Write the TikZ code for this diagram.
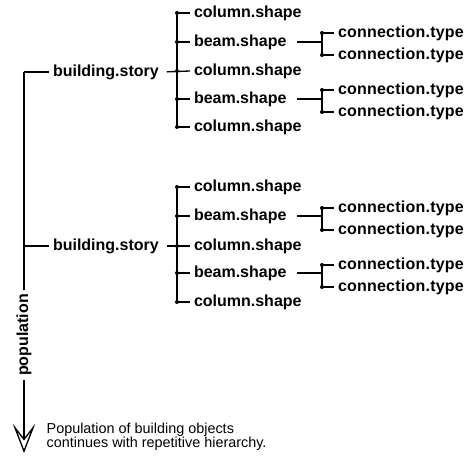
\documentclass[tikz,border=0pt]{standalone}
\usepackage{fontspec}
\setmainfont{Liberation Sans}
\newfontfamily\connfont[LetterSpace=1.4]{Liberation Sans}
\usetikzlibrary{arrows.meta}

\tikzset{every picture/.style={line width=1pt}}
\tikzset{
  lbl/.style={anchor=west, inner sep=2.5pt, font=\fontsize{12}{14}\selectfont\bfseries},
  conn/.style={lbl, font=\connfont\fontsize{12}{14}\selectfont\bfseries},
  note/.style={anchor=north west, inner sep=0pt, align=left, font=\fontsize{10.8}{9.9}\selectfont},
  popline/.style={-{Stealth[open, length=22pt, width=17pt, inset=11pt]}},
}

\begin{document}
\begin{tikzpicture}[x=0.75pt,y=0.75pt,yscale=-1,xscale=1]
	\useasboundingbox (0,0) rectangle (465,456);
	
	%Population line
	\coordinate (top) at (24,72);
	\coordinate (tip) at (24,453);
	\node [lbl, anchor=center, rotate=90] (pop) at (24,335) {population};
	\draw (top) -- (pop.east);
	\draw [popline] (pop.west) -- (tip);
	\node [note] (cont) at (46,422) {Population of building objects\\continues with repetitive hierarchy.};
	
	%Story 1
	\node [lbl] (st1) at (49,72) {building.story};
	\node [lbl] (c11) at (190,13) {column.shape};
	\node [lbl] (b11) at (190,42) {beam.shape};
	\node [lbl] (c12) at (190,71) {column.shape};
	\node [lbl] (b12) at (190,99) {beam.shape};
	\node [lbl] (c13) at (190,127) {column.shape};
	\node [conn] (t111) at (334,33) {connection.type};
	\node [conn] (t112) at (334,55) {connection.type};
	\node [conn] (t121) at (334,90) {connection.type};
	\node [conn] (t122) at (334,112) {connection.type};
	
	%Story 2
	\node [lbl] (st2) at (49,246) {building.story};
	\node [lbl] (c21) at (190,187) {column.shape};
	\node [lbl] (b21) at (190,216) {beam.shape};
	\node [lbl] (c22) at (190,246) {column.shape};
	\node [lbl] (b22) at (190,273) {beam.shape};
	\node [lbl] (c23) at (190,302) {column.shape};
	\node [conn] (t211) at (334,208) {connection.type};
	\node [conn] (t212) at (334,230) {connection.type};
	\node [conn] (t221) at (334,265) {connection.type};
	\node [conn] (t222) at (334,287) {connection.type};
	
	\coordinate (bar) at (177,0);
	\coordinate (cbar) at (322,0);
	
	%Story ticks
	\draw (top) -- (st1.west);
	\draw (top |- st2.west) -- (st2.west);
	
	%Story 1 bar
	\draw (bar |- c11.west) -- (bar |- c13.west);
	\draw (bar |- c11.west) -- (c11.west);
	\draw (bar |- b11.west) -- (b11.west);
	\draw [shorten <=3pt] (st1.east) -- (c12.west);
	\draw (bar |- b12.west) -- (b12.west);
	\draw (bar |- c13.west) -- (c13.west);
	\fill (bar |- c11.west) circle (2) (bar |- b11.west) circle (2) (bar |- c12.west) circle (2) (bar |- b12.west) circle (2) (bar |- c13.west) circle (2);
	
	%Story 1 connections
	\draw [shorten <=5pt] (b11.east) -- (cbar |- b11.east);
	\draw (cbar |- t111.west) -- (cbar |- t112.west);
	\draw (cbar |- t111.west) -- (t111.west);
	\draw (cbar |- t112.west) -- (t112.west);
	\draw [shorten <=5pt] (b12.east) -- (cbar |- b12.east);
	\draw (cbar |- t121.west) -- (cbar |- t122.west);
	\draw (cbar |- t121.west) -- (t121.west);
	\draw (cbar |- t122.west) -- (t122.west);
	\fill (cbar |- t111.west) circle (2) (cbar |- t112.west) circle (2) (cbar |- t121.west) circle (2) (cbar |- t122.west) circle (2);
	
	%Story 2 bar
	\draw (bar |- c21.west) -- (bar |- c23.west);
	\draw (bar |- c21.west) -- (c21.west);
	\draw (bar |- b21.west) -- (b21.west);
	\draw [shorten <=3pt] (st2.east) -- (c22.west);
	\draw (bar |- b22.west) -- (b22.west);
	\draw (bar |- c23.west) -- (c23.west);
	\fill (bar |- c21.west) circle (2) (bar |- b21.west) circle (2) (bar |- c22.west) circle (2) (bar |- b22.west) circle (2) (bar |- c23.west) circle (2);
	
	%Story 2 connections
	\draw [shorten <=5pt] (b21.east) -- (cbar |- b21.east);
	\draw (cbar |- t211.west) -- (cbar |- t212.west);
	\draw (cbar |- t211.west) -- (t211.west);
	\draw (cbar |- t212.west) -- (t212.west);
	\draw [shorten <=5pt] (b22.east) -- (cbar |- b22.east);
	\draw (cbar |- t221.west) -- (cbar |- t222.west);
	\draw (cbar |- t221.west) -- (t221.west);
	\draw (cbar |- t222.west) -- (t222.west);
	\fill (cbar |- t211.west) circle (2) (cbar |- t212.west) circle (2) (cbar |- t221.west) circle (2) (cbar |- t222.west) circle (2);
	
\end{tikzpicture}
\end{document}
